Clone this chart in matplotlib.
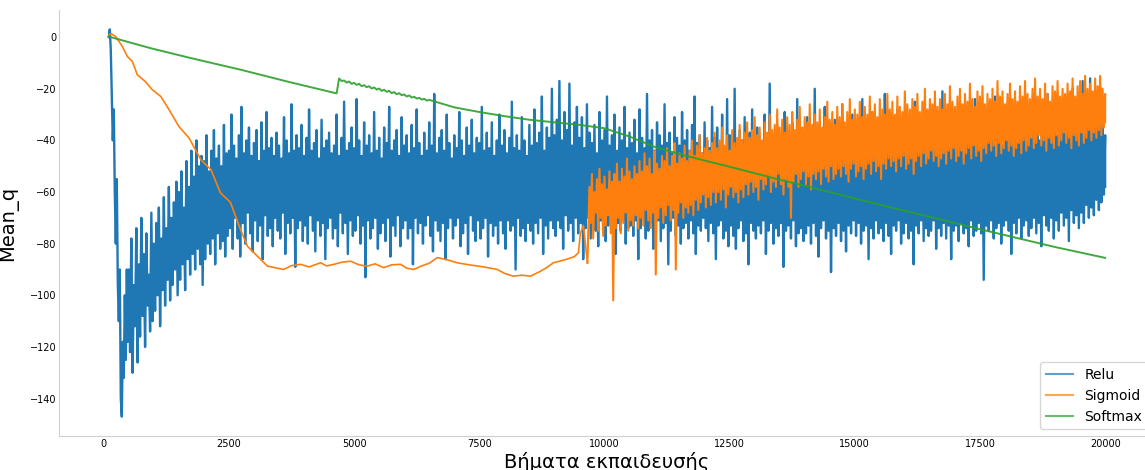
import numpy as np
import matplotlib
matplotlib.use("Agg")
import matplotlib.pyplot as plt

# Mean_q per training step for three activation functions
relu_start_x = [100, 120, 140, 160, 180, 200, 220, 240, 260, 280, 300, 320, 340, 360, 380, 400, 420, 440, 460, 480]
relu_start_y = [0, 3, -5, -22, -40, -28, -60, -80, -55, -95, -110, -90, -140, -147, -118, -132, -100, -125, -90, -118]

# relu after the initial drop: max / min of every 50-step window
relu_x = np.arange(500, 20001, 50)
relu_hi = [
    -90, -78, -96, -74, -88, -70, -84, -76, -92, -68,
    -80, -72, -66, -78, -62, -74, -58, -70, -64, -56,
    -60, -52, -66, -48, -58, -44, -54, -40, -50, -46,
    -48, -38, -52, -44, -36, -47, -42, -50, -34, -45,
    -44, -30, -42, -47, -38, -27, -45, -40, -35, -46,
    -41, -36, -48, -33, -44, -29, -43, -39, -46, -37,
    -42, -47, -31, -40, -45, -26, -44, -38, -43, -34,
    -46, -39, -28, -44, -41, -36, -47, -32, -43, -40,
    -37, -45, -42, -30, -46, -39, -25, -44, -41, -35,
    -43, -24, -40, -46, -33, -42, -38, -45, -29, -44,
    -39, -47, -35, -41, -27, -44, -40, -36, -46, -31,
    -42, -38, -45, -34, -43, -28, -41, -46, -37, -44,
    -33, -42, -22, -45, -39, -36, -44, -30, -41, -47,
    -38, -43, -29, -40, -46, -35, -42, -32, -45, -39,
    -41, -27, -44, -37, -43, -33, -46, -40, -30, -42,
    -36, -45, -39, -25, -43, -38, -44, -31, -40, -46,
    -34, -42, -28, -41, -37, -23, -44, -35, -39, -20,
    -38, -32, -17, -40, -29, -36, -18, -42, -33, -27,
    -39, -31, -43, -26, -37, -41, -34, -45, -29, -40,
    -36, -23, -42, -38, -30, -44, -35, -40, -27, -43,
    -37, -41, -32, -45, -28, -39, -43, -22, -40, -36,
    -44, -33, -38, -42, -26, -41, -37, -45, -31, -39,
    -42, -29, -40, -36, -44, -34, -23, -41, -38, -45,
    -33, -40, -43, -27, -39, -35, -42, -30, -44, -24,
    -38, -41, -20, -43, -36, -40, -31, -45, -37, -28,
    -42, -35, -39, -44, -30, -41, -18, -38, -43, -34,
    -40, -45, -29, -37, -42, -33, -39, -24, -43, -36,
    -41, -31, -44, -38, -20, -42, -35, -40, -27, -43,
    -37, -44, -32, -39, -41, -26, -43, -36, -40, -30,
    -42, -35, -38, -24, -43, -37, -40, -29, -44, -33,
    -39, -41, -22, -38, -43, -34, -40, -28, -42, -36,
    -44, -31, -39, -41, -25, -37, -43, -35, -40, -29,
    -38, -42, -33, -40, -36, -21, -41, -37, -43, -30,
    -39, -35, -42, -27, -38, -41, -32, -40, -24, -37,
    -41, -34, -38, -29, -40, -36, -23, -39, -33, -42,
    -36, -40, -28, -37, -34, -41, -26, -38, -35, -31,
    -39, -27, -36, -33, -40, -30, -37, -22, -35, -38,
    -32, -38, -25, -35, -37, -29, -34, -20, -36, -30,
    -33, -17, -35, -28, -16, -34, -24, -31, -19, -33,
    -38,
]
relu_lo = [
    -122, -130, -112, -126, -116, -108, -120, -104, -114, -110,
    -106, -100, -112, -98, -104, -94, -102, -96, -90, -100,
    -94, -88, -98, -86, -92, -84, -90, -82, -88, -96,
    -86, -80, -84, -78, -88, -76, -82, -79, -85, -77,
    -74, -82, -70, -78, -85, -72, -80, -68, -76, -83,
    -71, -79, -73, -86, -69, -77, -74, -81, -70, -75,
    -78, -68, -84, -72, -76, -70, -89, -74, -71, -79,
    -73, -80, -69, -75, -83, -71, -77, -72, -86, -74,
    -70, -78, -74, -81, -68, -76, -72, -84, -71, -77,
    -75, -69, -80, -73, -93, -71, -78, -74, -70, -82,
    -76, -72, -79, -70, -85, -73, -77, -69, -81, -74,
    -71, -78, -74, -88, -70, -76, -72, -80, -73, -69,
    -77, -83, -71, -75, -79, -72, -86, -74, -70, -78,
    -73, -70, -81, -76, -72, -84, -69, -75, -79, -71,
    -78, -74, -70, -85, -72, -77, -73, -80, -71, -76,
    -82, -71, -75, -73, -90, -70, -77, -74, -79, -72,
    -75, -80, -72, -76, -70, -84, -73, -78, -71, -74,
    -77, -71, -74, -82, -69, -75, -72, -79, -70, -76,
    -72, -86, -74, -70, -78, -73, -75, -81, -71, -76,
    -79, -73, -70, -76, -84, -72, -75, -71, -80, -74,
    -73, -77, -71, -86, -74, -70, -78, -75, -72, -82,
    -76, -71, -79, -74, -72, -88, -75, -70, -77, -73,
    -80, -74, -72, -78, -71, -76, -84, -73, -75, -70,
    -74, -79, -72, -76, -86, -73, -71, -78, -75, -81,
    -73, -77, -82, -74, -71, -79, -76, -88, -72, -75,
    -78, -73, -76, -71, -84, -75, -72, -80, -74, -77,
    -72, -89, -75, -73, -78, -71, -81, -76, -74, -79,
    -76, -73, -80, -72, -77, -85, -74, -71, -78, -75,
    -91, -74, -77, -72, -79, -75, -83, -73, -76, -71,
    -77, -72, -80, -75, -73, -86, -74, -78, -71, -76,
    -74, -79, -72, -77, -84, -73, -75, -71, -80, -76,
    -72, -78, -75, -88, -73, -76, -71, -79, -74, -77,
    -75, -71, -82, -74, -77, -72, -78, -73, -86, -75,
    -73, -79, -72, -76, -74, -81, -71, -77, -75, -72,
    -76, -94, -73, -75, -71, -78, -74, -72, -80, -73,
    -71, -75, -84, -72, -76, -70, -78, -73, -71, -77,
    -74, -70, -76, -72, -81, -69, -73, -75, -70, -78,
    -71, -75, -68, -73, -70, -79, -67, -72, -69, -74,
    -68, -72, -65, -70, -66, -69, -63, -67, -64, -61,
    -58,
]

sigmoid_start_x = [106, 150, 240, 370, 470, 570, 670, 830, 970, 1140, 1300, 1500, 1700, 1940, 2140, 2330, 2530, 2730, 2870,
                   3070, 3270, 3590, 3750, 3930, 4100, 4330, 4450, 4600, 4750, 4930, 5100, 5260, 5420, 5590, 5750, 5930,
                   6050, 6190, 6350, 6500, 6660, 6850, 7060, 7300, 7520, 7700, 7860, 8000, 8180, 8350, 8520, 8720, 8850,
                   8980, 9100, 9250, 9400, 9480, 9520, 9580, 9660]
sigmoid_start_y = [0.9, 1.3, 0.2, -3.6, -7.5, -9.4, -14.6, -17.2, -20.4, -23, -28, -34.6, -39, -47.5, -51.3, -60.3, -64, -74.5, -81,
                   -84.9, -88.7, -90, -88.5, -88, -89, -87.4, -88.6, -88, -87.2, -86.8, -88.2, -88.7, -87.8, -89.3, -88.2, -88,
                   -89.5, -90, -88.6, -87.6, -85.4, -86.2, -87.4, -88.2, -88.8, -89.4, -90, -91.5, -92.6, -92.2, -92.6, -90.7, -89.2,
                   -87.4, -86.8, -86, -85, -83.5, -75.9, -73, -87.4]

# sigmoid once it becomes noisy: max / min of every 50-step window
sigmoid_x = np.arange(9700, 20001, 50)
sigmoid_hi = [
    -58, -53, -60, -55, -51, -57, -54, -59, -52, -56,
    -53, -49, -56, -51, -54, -47, -52, -55, -50, -53,
    -48, -52, -45, -50, -47, -53, -44, -49, -51, -46,
    -48, -43, -50, -46, -41, -49, -45, -47, -42, -48,
    -44, -40, -46, -42, -38, -45, -43, -39, -44, -41,
    -37, -43, -40, -35, -42, -38, -44, -36, -41, -39,
    -34, -40, -37, -33, -39, -36, -31, -38, -35, -40,
    -33, -37, -30, -36, -34, -28, -35, -32, -37, -31,
    -34, -29, -36, -32, -27, -35, -31, -33, -26, -34,
    -30, -33, -28, -35, -31, -25, -32, -29, -34, -27,
    -31, -26, -33, -29, -24, -32, -28, -30, -25, -31,
    -27, -30, -23, -29, -26, -31, -24, -28, -30, -22,
    -28, -25, -30, -23, -27, -29, -21, -26, -28, -24,
    -27, -22, -29, -25, -20, -28, -24, -26, -21, -27,
    -24, -28, -22, -26, -19, -25, -27, -23, -20, -26,
    -22, -25, -18, -24, -27, -21, -23, -19, -26, -22,
    -24, -20, -25, -17, -23, -21, -26, -22, -18, -24,
    -21, -25, -19, -23, -17, -22, -24, -20, -16, -23,
    -20, -24, -18, -22, -25, -19, -21, -17, -23, -20,
    -22, -18, -21, -16, -23, -19, -17, -22, -15, -20,
    -18, -21, -16, -19, -15, -20, -22,
]
sigmoid_lo = [
    -72, -78, -68, -75, -70, -77, -73, -69, -76, -102,
    -74, -70, -76, -72, -68, -75, -71, -73, -69, -74,
    -70, -73, -67, -71, -74, -68, -92, -70, -66, -72,
    -69, -65, -71, -67, -90, -68, -64, -70, -66, -68,
    -65, -69, -63, -67, -64, -61, -66, -62, -65, -60,
    -64, -60, -63, -59, -66, -61, -58, -62, -60, -64,
    -59, -62, -57, -61, -56, -60, -58, -63, -55, -59,
    -57, -54, -60, -56, -58, -53, -57, -61, -55, -58,
    -70, -56, -53, -58, -55, -52, -57, -54, -59, -53,
    -55, -52, -57, -51, -54, -56, -50, -55, -53, -51,
    -54, -50, -53, -56, -51, -49, -54, -52, -50, -55,
    -51, -49, -53, -48, -52, -50, -55, -49, -51, -47,
    -50, -48, -52, -47, -50, -46, -51, -49, -47, -53,
    -48, -46, -50, -45, -49, -47, -44, -48, -46, -50,
    -47, -45, -49, -44, -47, -43, -48, -46, -44, -49,
    -45, -43, -47, -42, -46, -44, -48, -43, -45, -41,
    -44, -42, -46, -41, -45, -43, -40, -44, -42, -46,
    -43, -41, -45, -40, -44, -42, -39, -43, -41, -38,
    -42, -40, -44, -39, -41, -43, -38, -42, -40, -37,
    -41, -39, -43, -38, -40, -42, -37, -41, -39, -36,
    -40, -37, -39, -36, -38, -35, -33,
]

softmax_x = [100, 938, 1735, 2730, 3665, 4650,
             4700, 4750, 4800, 4850, 4900, 4950, 5000, 5050, 5100, 5150, 5200, 5250, 5300, 5350, 5400, 5450, 5500,
             5550, 5600, 5650, 5700, 5750, 5800, 5850, 5900, 5950, 6000, 6050, 6100, 6150, 6200, 6250, 6300, 6350,
             6400, 6450, 6500, 7000, 7500, 8000, 8500, 9000, 9500, 10000, 10500, 11000, 11500, 12000, 12500, 13000,
             13500, 14000, 14500, 15000, 15500, 16000, 16500, 17000, 17500, 18000, 18500, 19000, 19500, 20000]
softmax_y = [0.2, -4.3, -8.1, -12.6, -17.2, -21.8,
             -16.0, -17.0, -16.8, -17.6, -17.2, -18.1, -17.7, -18.5, -18.1, -19.0, -18.6, -19.4, -19.0, -19.9, -19.5, -20.3, -19.9,
             -20.8, -20.4, -21.2, -20.8, -21.7, -21.3, -22.1, -21.7, -22.5, -22.2, -23.0, -22.6, -23.4, -23.1, -23.8, -23.5, -24.2,
             -23.9, -24.6, -24.3, -27.2, -29, -30.6, -32, -33, -34, -35.3, -38.5, -42.5, -45.3, -47.8, -50.2, -52.7,
             -55.2, -57.6, -60, -62.5, -64.9, -67.3, -69.6, -72, -74.4, -76.7, -79, -81.3, -83.4, -85.5]


def interleave(x, hi, lo):
    # alternate window max and min so the line sweeps across the band
    assert len(x) == len(hi) == len(lo)
    xs, ys = [], []
    for xi, h, l in zip(x, hi, lo):
        xs += [xi, min(xi + 25, 20000)]
        ys += [h, l]
    return xs, ys


blue = "#1f77b4"
orange = "#ff7f0e"
green = "#2ca02c"

fig = plt.figure(figsize=(11.45, 4.7), dpi=100)
ax = fig.add_axes([0.0515, 0.0723, 0.9572, 0.9064])

rx, ry = interleave(relu_x, relu_hi, relu_lo)
ax.plot(relu_start_x + rx, relu_start_y + ry, color=blue, lw=1.7, label="Relu")

# smooth part of sigmoid thinner, the noisy tail joins on from its last point
sx, sy = interleave(sigmoid_x, sigmoid_hi, sigmoid_lo)
ax.plot(sigmoid_start_x, sigmoid_start_y, color=orange, lw=1.2, label="Sigmoid")
ax.plot(sigmoid_start_x[-1:] + sx, sigmoid_start_y[-1:] + sy, color=orange, lw=1.5)

ax.plot(softmax_x, softmax_y, color=green, lw=1.4, alpha=0.9, label="Softmax")

ax.set_xlim(-895, 20995)
ax.set_ylim(-154.5, 10.5)
ax.set_xticks(np.arange(0, 20001, 2500))
ax.set_yticks(np.arange(-140, 1, 20))
ax.tick_params(length=0, labelsize=7, pad=2)

for side in ["top", "right"]:
    ax.spines[side].set_visible(False)
for side in ["left", "bottom"]:
    ax.spines[side].set_color("#d0d0d0")

ax.set_ylabel("Mean_q", fontsize=14, labelpad=8)
ax.set_xlabel("Βήματα εκπαιδευσής", fontsize=14, labelpad=2)
leg = ax.legend(loc="lower right", fontsize=10)
for line in leg.get_lines():
    line.set_linewidth(1.5)
    line.set_alpha(0.7)

fig.savefig("out.png", dpi=100)
